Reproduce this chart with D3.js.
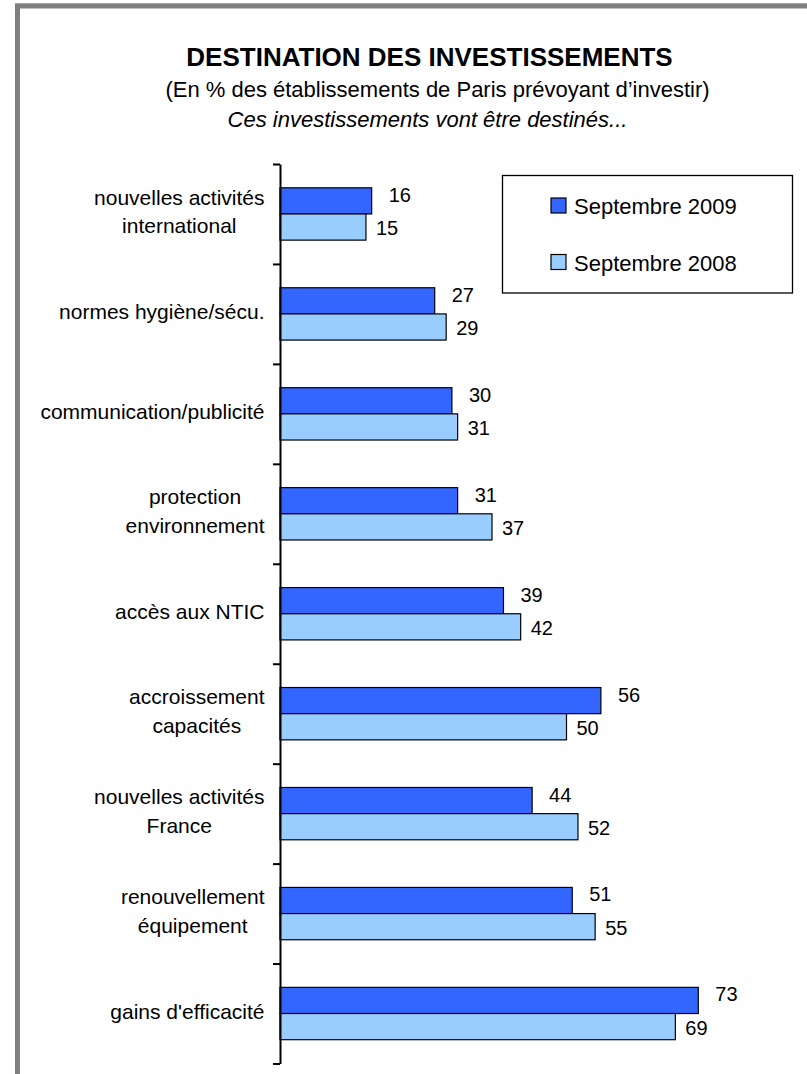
<!DOCTYPE html>
<html>
<head>
<meta charset="utf-8">
<script src="https://cdn.jsdelivr.net/npm/d3@7"></script>
<style>
  html, body { margin: 0; padding: 0; background: #fff; }
  svg { display: block; font-family: "Liberation Sans", Arial, sans-serif; }
</style>
</head>
<body>
<svg id="chart" width="807" height="1074"></svg>
<script>
// ---- data ----
const categories = [
  "nouvelles activités|international",
  "normes hygiène/sécu.",
  "communication/publicité",
  "protection|environnement",
  "accès aux NTIC",
  "accroissement|capacités",
  "nouvelles activités|France",
  "renouvellement|équipement",
  "gains d'efficacité"
];
const seriesNames = ["Septembre 2009", "Septembre 2008"];
const values2009 = [16, 27, 30, 31, 39, 56, 44, 51, 73];
const values2008 = [15, 29, 31, 37, 42, 50, 52, 55, 69];
const seriesColors = ["#3366FF", "#99CCFF"];
const titleText = "DESTINATION DES INVESTISSEMENTS";
const subtitleText = "(En % des établissements de Paris prévoyant d’investir)";
const subtitle2Text = "Ces investissements vont être destinés...";

// ---- drawing ----
const svg = d3.select("#chart");

// frame (gray border on top and left)
svg.append("line").attr("x1", 15).attr("x2", 807).attr("y1", 3.5).attr("y2", 3.5)
  .attr("stroke", "#c8c8c8").attr("stroke-width", 1);
svg.append("path").attr("d", "M17.5,1074 V6 H807")
  .attr("fill", "none").attr("stroke", "#808080").attr("stroke-width", 5);

// titles
svg.append("text").attr("x", 429.5).attr("y", 66).attr("text-anchor", "middle")
  .attr("font-size", 26).attr("font-weight", "bold").attr("fill", "#000").text(titleText);
svg.append("text").attr("x", 437.5).attr("y", 96.5).attr("text-anchor", "middle")
  .attr("font-size", 22).attr("fill", "#000").text(subtitleText);
svg.append("text").attr("x", 427.5).attr("y", 126.5).attr("text-anchor", "middle")
  .attr("font-size", 22).attr("font-style", "italic").attr("fill", "#000").text(subtitle2Text);

// scales
const y = d3.scaleBand().domain(categories).range([164, 1063.5]).paddingInner(0).paddingOuter(0);
const ySub = d3.scaleBand().domain(seriesNames).range([0, y.bandwidth()]).paddingInner(0).paddingOuter(0.91);
const x = d3.scaleLinear().domain([0, 100]).range([280, 853]);
const yIdx = d3.scaleLinear().domain([0, categories.length]).range([164, 1063.5]);

const rows = categories.map((c, i) => ({
  cat: c,
  vals: [
    { s: seriesNames[0], v: values2009[i], color: seriesColors[0], k: 0 },
    { s: seriesNames[1], v: values2008[i], color: seriesColors[1], k: 1 }
  ]
}));

const groups = svg.append("g").selectAll("g").data(rows).join("g")
  .attr("transform", d => `translate(0,${y(d.cat)})`);

groups.selectAll("rect").data(d => d.vals).join("rect")
  .attr("x", x(0))
  .attr("y", d => ySub(d.s))
  .attr("width", d => x(d.v) - x(0))
  .attr("height", ySub.bandwidth())
  .attr("fill", d => d.color)
  .attr("stroke", "#000")
  .attr("stroke-width", 1.2);

groups.selectAll("text.val").data(d => d.vals).join("text")
  .attr("class", "val")
  .attr("x", d => x(d.v) + (d.k === 0 ? 17 : 10))
  .attr("y", d => ySub(d.s) + ySub.bandwidth() / 2 + (d.k === 0 ? 1 : 8))
  .attr("font-size", 20)
  .attr("fill", "#000")
  .text(d => d.v);

// axis (ticks between categories)
const axis = d3.axisLeft(yIdx).tickValues(d3.range(0, categories.length + 1))
  .tickSize(7).tickSizeOuter(0).tickFormat("");
const ag = svg.append("g").attr("transform", `translate(${x(0)},0)`).call(axis);
ag.select(".domain").attr("stroke", "#000").attr("stroke-width", 2);
ag.selectAll(".tick line").attr("stroke", "#000").attr("stroke-width", 2);

// category labels: block right-aligned, lines centered within block
const labelRight = 264.5;
const lineGap = 28.7;
categories.forEach(c => {
  const lines = c.split("|");
  const cy = y(c) + y.bandwidth() / 2;
  const g = svg.append("g");
  const texts = lines.map((ln, j) => g.append("text")
    .attr("font-size", 21).attr("fill", "#000")
    .attr("y", cy + 5 + (j - (lines.length - 1) / 2) * lineGap)
    .text(ln));
  const maxW = d3.max(texts, t => t.node().getComputedTextLength());
  texts.forEach(t => t.attr("text-anchor", "middle").attr("x", labelRight - maxW / 2));
});

// legend
const lg = svg.append("g");
lg.append("rect").attr("x", 502.5).attr("y", 175.5).attr("width", 290).attr("height", 117.5)
  .attr("fill", "#fff").attr("stroke", "#000").attr("stroke-width", 1.3);
const legendY = [214, 270.5];
seriesNames.forEach((s, i) => {
  lg.append("rect").attr("x", 551).attr("y", legendY[i] - 16).attr("width", 15).attr("height", 15)
    .attr("fill", seriesColors[i]).attr("stroke", "#000").attr("stroke-width", 1.2);
  lg.append("text").attr("x", 574).attr("y", legendY[i]).attr("font-size", 22).attr("fill", "#000").text(s);
});
</script>
</body>
</html>
